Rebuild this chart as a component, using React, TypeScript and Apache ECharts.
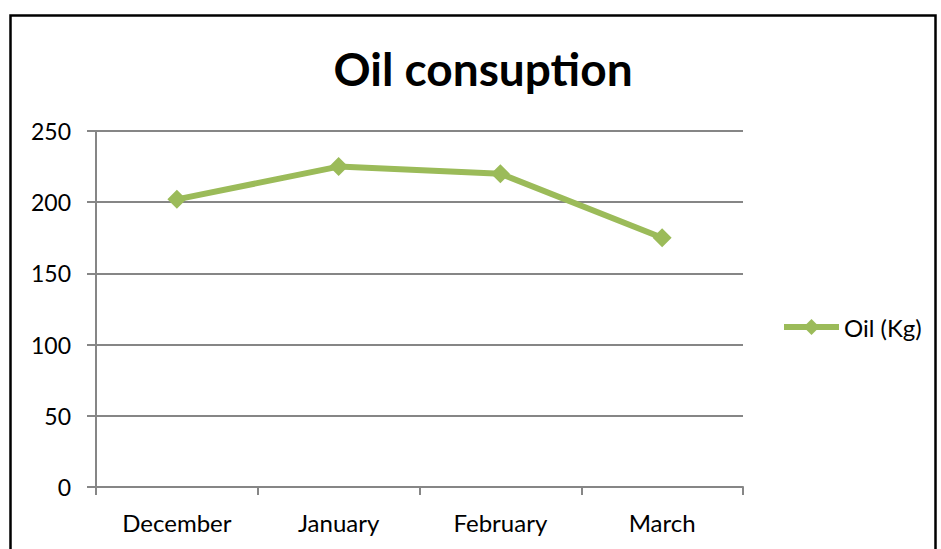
import React, { useEffect, useRef } from "react";
import * as echarts from "echarts";

const categories = ["December", "January", "February", "March"];
const oilValues = [202, 225, 220, 175];
const seriesName = "Oil (Kg)";
const titleText = "Oil consuption";

export default function App() {
  const ref = useRef<HTMLDivElement>(null);
  useEffect(() => {
    if (!ref.current) return;
    const chart = echarts.init(ref.current, undefined, { renderer: "svg" });
    const font = "Lato, 'Open Sans', sans-serif";
    chart.setOption({
      animation: false,
      backgroundColor: "#ffffff",
      title: {
        text: titleText,
        left: 478,
        textAlign: "center",
        top: 40,
        textStyle: { fontFamily: font, fontWeight: "bold", fontSize: 46, color: "#000" },
      },
      graphic: [
        {
          type: "rect",
          shape: { x: 10.5, y: 15.5, width: 925, height: 600 },
          style: { fill: "none", stroke: "#000", lineWidth: 2.5 },
        },
      ],
      legend: {
        left: 776,
        top: 310,
        orient: "vertical",
        itemWidth: 55,
        itemHeight: 20,
        itemGap: 6,
        lineStyle: { width: 6, color: "#9BBB59" },
        itemStyle: { color: "#9BBB59" },
        textStyle: { fontFamily: font, fontSize: 24, color: "#000" },
        data: [seriesName],
      },
      grid: { left: 96, right: 198, top: 131, bottom: 62, containLabel: false },
      xAxis: {
        type: "category",
        data: categories,
        boundaryGap: true,
        axisLine: { show: true, lineStyle: { color: "#868686", width: 2 } },
        axisTick: { show: true, length: 8, alignWithLabel: false, lineStyle: { color: "#868686", width: 2 } },
        axisLabel: { fontFamily: font, fontSize: 24, color: "#000", margin: 23 },
        splitLine: { show: false },
      },
      yAxis: {
        type: "value",
        min: 0,
        max: 250,
        interval: 50,
        axisLine: { show: true, lineStyle: { color: "#868686", width: 2 } },
        axisTick: { show: true, length: 9, lineStyle: { color: "#868686", width: 2 } },
        axisLabel: { fontFamily: font, fontSize: 23, color: "#000", margin: 25 },
        splitLine: { show: true, lineStyle: { color: "#868686", width: 2 } },
      },
      series: [
        {
          name: seriesName,
          type: "line",
          data: oilValues,
          symbol: "diamond",
          symbolSize: 19,
          lineStyle: { color: "#9BBB59", width: 6 },
          itemStyle: { color: "#9BBB59" },
        },
      ],
    });
    return () => chart.dispose();
  }, []);
  return (
    <div
      ref={ref}
      style={{ position: "fixed", left: 0, top: 0, width: 941, height: 549 }}
    />
  );
}
